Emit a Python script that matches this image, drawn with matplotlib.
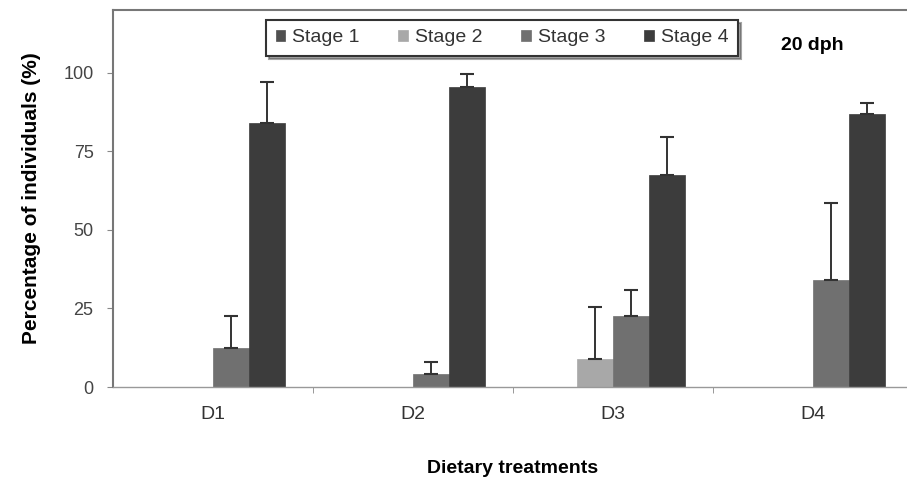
import numpy as np
import matplotlib.pyplot as plt

plt.rcParams['font.family'] = ['Liberation Sans', 'DejaVu Sans']

treatments = ['D1', 'D2', 'D3', 'D4']
stages = ['Stage 1', 'Stage 2', 'Stage 3', 'Stage 4']
stage1 = [0, 0, 0, 0]
stage2 = [0, 0, 9, 0]
stage3 = [12.5, 4, 22.5, 34]
stage4 = [84, 95.5, 67.5, 87]
err1 = [0, 0, 0, 0]
err2 = [0, 0, 16.5, 0]
err3 = [10, 4, 8.5, 24.5]
err4 = [13, 4, 12, 3.3]

colors = ['#505050', '#a8a8a8', '#707070', '#3c3c3c']

fig = plt.figure(figsize=(9.07, 4.84), dpi=100)
ax = fig.add_axes([113/907, 97/484, 800/907, 377/484])

x = np.arange(len(treatments))
w = 0.18
series = [stage1, stage2, stage3, stage4]
errs = [err1, err2, err3, err4]
for i, (vals, e) in enumerate(zip(series, errs)):
    pos = x + (i - 1.5) * w
    ax.bar(pos, vals, w, color=colors[i], edgecolor=colors[i], linewidth=0.5, label=stages[i])
    for p, v, ee in zip(pos, vals, e):
        if ee > 0:
            ax.errorbar(p, v, yerr=[[0], [ee]], fmt='none', ecolor='#333333',
                        elinewidth=1.4, capsize=5, capthick=1.5)

ax.set_xlim(-0.5, 3.5)
ax.set_ylim(0, 120)
ax.set_yticks([0, 25, 50, 75, 100])
ax.set_xticks(x)
ax.set_xticklabels(treatments, fontsize=14, color='#333333')
ax.set_xticks(np.arange(0.5, 3.5, 1), minor=True)
ax.tick_params(axis='x', which='major', length=0, pad=14)
ax.tick_params(axis='x', which='minor', length=4, color='#888888', direction='out')
ax.tick_params(axis='y', length=4, color='#888888', labelsize=13, labelcolor='#444444', pad=10)

for s in ax.spines.values():
    s.set_color('#777777')
    s.set_linewidth(1.5)
ax.spines['bottom'].set_color('#999999')
ax.spines['bottom'].set_linewidth(1.0)

ax.set_ylabel('Percentage of individuals (%)', fontsize=15, fontweight='bold', labelpad=16)
ax.set_xlabel('Dietary treatments', fontsize=14, fontweight='bold', labelpad=26)

leg = ax.legend(ncol=4, loc='center', bbox_to_anchor=(502/907, 1 - 38/484),
                bbox_transform=fig.transFigure, fontsize=14, frameon=True,
                fancybox=False, shadow=True, handlelength=0.5, handleheight=0.5,
                handletextpad=0.35, columnspacing=2.0, borderpad=0.5)
leg.get_frame().set_edgecolor('#333333')
leg.get_frame().set_linewidth(1.5)
for t in leg.get_texts():
    t.set_color('#333333')

fig.text(812/907, 1 - 45/484, '20 dph', fontsize=14, fontweight='bold', ha='center', va='center')

fig.savefig('out.png', dpi=100)
